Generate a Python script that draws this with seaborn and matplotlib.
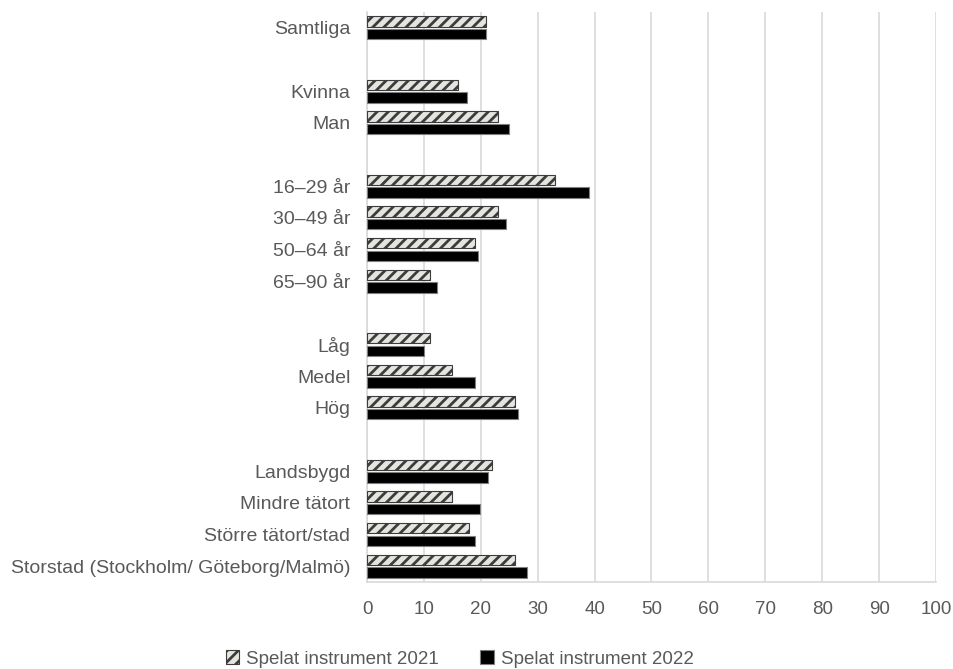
import pandas as pd
import matplotlib
matplotlib.use("Agg")
import matplotlib.pyplot as plt
import matplotlib.patches as mpatches
import seaborn as sns

# categories (blank strings = empty rows between the groups)
categories = ['Samtliga', ' ', 'Kvinna', 'Man', '  ',
              '16–29 år', '30–49 år', '50–64 år', '65–90 år', '   ',
              'Låg', 'Medel', 'Hög', '    ',
              'Landsbygd', 'Mindre tätort', 'Större tätort/stad',
              'Storstad (Stockholm/ Göteborg/Malmö)']
labels = ['Samtliga', 'Kvinna', 'Man',
          '16–29 år', '30–49 år', '50–64 år', '65–90 år',
          'Låg', 'Medel', 'Hög',
          'Landsbygd', 'Mindre tätort', 'Större tätort/stad',
          'Storstad (Stockholm/ Göteborg/Malmö)']
v2021 = [21, 16, 23, 33, 23, 19, 11, 11, 15, 26, 22, 15, 18, 26]
v2022 = [21, 17.5, 25, 39, 24.5, 19.5, 12.3, 10, 19, 26.5, 21.3, 19.8, 18.9, 28.2]
series = ['Spelat instrument 2021', 'Spelat instrument 2022']

df = pd.concat([
    pd.DataFrame({'grupp': labels, 'andel': v2021, 'serie': series[0]}),
    pd.DataFrame({'grupp': labels, 'andel': v2022, 'serie': series[1]}),
])

sns.set_style('white')
plt.rcParams['font.family'] = ['Liberation Sans', 'DejaVu Sans']
plt.rcParams['hatch.linewidth'] = 2.0
txt = '#595959'
grid = '#d9d9d9'

fig = plt.figure(figsize=(9.54, 6.69), dpi=100)
ax = fig.add_axes([0.3847, 0.130, 0.5964, 0.852])

sns.barplot(data=df, y='grupp', x='andel', hue='serie', order=categories,
            hue_order=series, orient='h', width=0.8, gap=0.2,
            palette=['#e6e6de', 'black'], legend=False, ax=ax, zorder=3)

# hatched 2021 bars, black 2022 bars
for p in ax.containers[0]:
    p.set_hatch('///')
    p.set_edgecolor('#3c3c3c')
    p.set_linewidth(0.8)
for p in ax.containers[1]:
    p.set_edgecolor('#7f7f7f')
    p.set_linewidth(0.8)

ax.set_xlim(0, 100)
ax.set_xticks(range(0, 101, 10))
ax.set_xlabel('')
ax.set_ylabel('')
ax.grid(axis='x', color=grid, linewidth=1.2, zorder=0)
ax.set_axisbelow(True)
for s in ['top', 'right']:
    ax.spines[s].set_visible(False)
for s in ['left', 'bottom']:
    ax.spines[s].set_color(grid)
    ax.spines[s].set_linewidth(1.2)
ax.tick_params(axis='y', length=0, pad=12, labelsize=14, labelcolor=txt)
ax.tick_params(axis='x', length=5, color=grid, width=1.2, pad=9,
               labelsize=13.5, labelcolor=txt)

h1 = mpatches.Patch(facecolor='#e6e6de', edgecolor='#3c3c3c', hatch='///', linewidth=0.8)
h2 = mpatches.Patch(facecolor='black', edgecolor='#7f7f7f', linewidth=0.8)
fig.legend([h1, h2], series, loc='lower center', bbox_to_anchor=(0.482, -0.023),
           ncol=2, frameon=False, fontsize=13.5, labelcolor=txt,
           handlelength=0.7, handleheight=0.7, handletextpad=0.4, columnspacing=2.2)

fig.savefig('out.png', dpi=100)
